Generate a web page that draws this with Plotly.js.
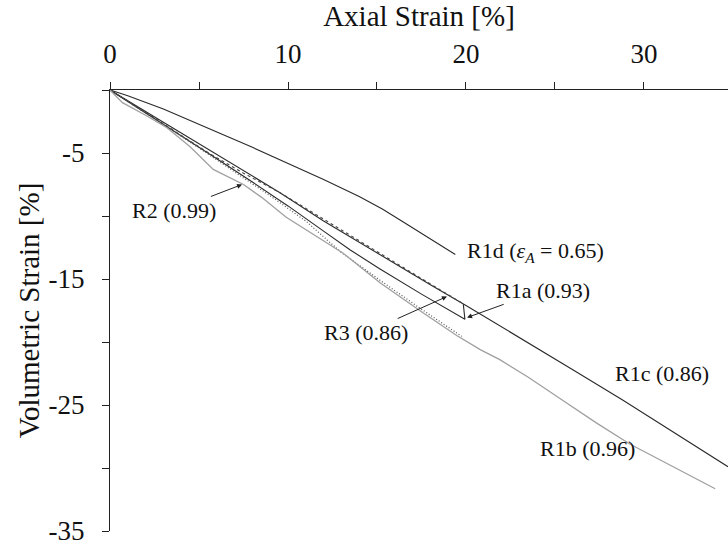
<!DOCTYPE html>
<html>
<head>
<meta charset="utf-8">
<script src="https://cdn.plot.ly/plotly-3.0.1.min.js"></script>
<style>html,body{margin:0;padding:0;background:#fff;}#chart{width:728px;height:547px;}</style>
</head>
<body>
<div id="chart"></div>
<script>
// R1d (εA = 0.65)
const r1dX = [0, 1, 3, 5, 6.2, 8, 10, 12, 14, 15.3, 16.5, 17.8, 19.4];
const r1dY = [0, -0.45, -1.5, -2.75, -3.45, -4.55, -5.8, -7.1, -8.45, -9.45, -10.5, -11.65, -13.05];
// R1c (0.86)
const r1cX = [0, 1, 2, 4, 6, 8, 9.55, 12, 15.17, 18, 20, 21.9, 23.4, 26, 28.8, 31.5, 34.72];
const r1cY = [0, -0.85, -1.7, -3.45, -5.15, -6.85, -8.15, -10.4, -13.1, -15.45, -17.1, -18.7, -19.95, -22.2, -24.6, -27.0, -29.9];
// R1a (0.93)
const r1aX = [0, 1, 2, 4, 6, 8, 10, 12, 13.5, 15.17, 17.5, 19.94, 19.85];
const r1aY = [0, -0.9, -1.8, -3.6, -5.45, -7.3, -9.2, -11.2, -12.7, -14.2, -16.2, -18.2, -17.0];
// R3 (0.86)
const r3X = [0, 2, 4, 5.6, 7.5, 9.55, 12, 14.5, 16.67, 18.3, 19.76];
const r3Y = [0, -1.75, -3.6, -5.05, -6.6, -8.15, -10.25, -12.4, -14.25, -15.6, -16.9];
// R2 (0.99)
const r2X = [0, 1, 3, 5, 7, 9, 11, 13, 15.17, 17.5, 19.76];
const r2Y = [0, -0.9, -2.75, -4.6, -6.5, -8.4, -10.4, -12.9, -15.1, -17.4, -19.55];
// R1b (0.96)
const r1bX = [0, 0.7, 2, 3.2, 4.5, 5.8, 7.5, 8.5, 9.9, 11.5, 13.1, 15.17, 17.5, 19.5, 20.8, 21.9, 23.5, 25.3, 27.3, 29.2, 31.5, 34.0];
const r1bY = [0, -1.0, -2.0, -3.0, -4.5, -6.3, -7.5, -8.5, -10.1, -11.5, -12.95, -15.3, -17.6, -19.5, -20.6, -21.4, -22.8, -24.5, -26.4, -28.1, -29.8, -31.65];

const xTickVals = [0, 10, 20, 30];
const xTickText = ['0', '10', '20', '30'];
const xMinorVals = [5, 15, 25];
const yTickVals = [-5, -15, -25, -35];
const yTickText = ['-5', '-15', '-25', '-35'];
const yMinorVals = [0, -10, -20, -30];

const serif = 'Liberation Serif';

const traces = [
  {x: r1dX, y: r1dY, mode: 'lines', line: {color: '#2a2a2a', width: 1.1}, name: 'R1d'},
  {x: r1cX, y: r1cY, mode: 'lines', line: {color: '#2a2a2a', width: 1.1}, name: 'R1c'},
  {x: r1aX, y: r1aY, mode: 'lines', line: {color: '#2a2a2a', width: 1.1}, name: 'R1a'},
  {x: r3X, y: r3Y, mode: 'lines', line: {color: '#444', width: 1.1, dash: '3px,3px'}, name: 'R3'},
  {x: r2X, y: r2Y, mode: 'lines', line: {color: '#555', width: 1.2, dash: '1px,2px'}, name: 'R2'},
  {x: r1bX, y: r1bY, mode: 'lines', line: {color: '#a0a0a0', width: 1.3}, name: 'R1b'}
];

const labelFont = {family: serif, size: 22, color: '#111'};
const ann = (text, x, y) => ({text, x, y, xref: 'x', yref: 'y', xanchor: 'left', yanchor: 'middle', showarrow: false, font: labelFont});
// label drawn at (ax, ay) with an arrow pointing to (x, y)
const arrowAnn = (text, x, y, ax, ay) => ({text, x, y, ax, ay, xref: 'x', yref: 'y', axref: 'x', ayref: 'y',
  showarrow: true, arrowhead: 2, arrowsize: 1, arrowwidth: 1, arrowcolor: '#222', standoff: 0, font: labelFont});

const minorStyle = (vals) => ({tickmode: 'array', tickvals: vals, ticks: 'outside', ticklen: 7, tickwidth: 1, tickcolor: '#222', showgrid: false});

const layout = {
  width: 728, height: 547,
  margin: {l: 110, r: 0, t: 90, b: 16},
  paper_bgcolor: '#fff', plot_bgcolor: '#fff',
  showlegend: false,
  font: {family: serif, color: '#111'},
  xaxis: {
    side: 'top', range: [0, 34.72], showgrid: false, zeroline: false,
    showline: true, linecolor: '#222', linewidth: 1.2,
    ticks: 'outside', ticklen: 7, tickcolor: '#222', tickwidth: 1,
    tickmode: 'array', tickvals: xTickVals, ticktext: xTickText,
    ticklabelstandoff: 8,
    minor: minorStyle(xMinorVals),
    tickfont: {family: serif, size: 27, color: '#111'},
    title: {text: 'Axial Strain [%]', font: {family: serif, size: 29, color: '#111'}, standoff: 4}
  },
  yaxis: {
    range: [-35, 0], showgrid: false, zeroline: false,
    showline: true, linecolor: '#222', linewidth: 1.2,
    ticks: 'outside', ticklen: 7, tickcolor: '#222', tickwidth: 1,
    tickmode: 'array', tickvals: yTickVals, ticktext: yTickText,
    ticklabelstandoff: 12,
    minor: minorStyle(yMinorVals),
    tickfont: {family: serif, size: 27, color: '#111'},
    title: {text: 'Volumetric Strain [%]', font: {family: serif, size: 29, color: '#111'}, standoff: 0}
  },
  annotations: [
    ann('R1d (<i>ε<sub>A</sub></i> = 0.65)', 19.94, -12.85),
    ann('R1c (0.86)', 28.26, -22.5),
    ann('R1b (0.96)', 24.04, -28.45),
    arrowAnn('R2 (0.99)', 7.42, -7.5, 3.62, -9.56),
    arrowAnn('R3 (0.86)', 18.93, -16.39, 14.4, -19.25),
    arrowAnn('R1a (0.93)', 20.06, -18.06, 24.3, -15.9)
  ]
};

Plotly.newPlot('chart', traces, layout, {displayModeBar: false, staticPlot: true});
</script>
</body>
</html>
